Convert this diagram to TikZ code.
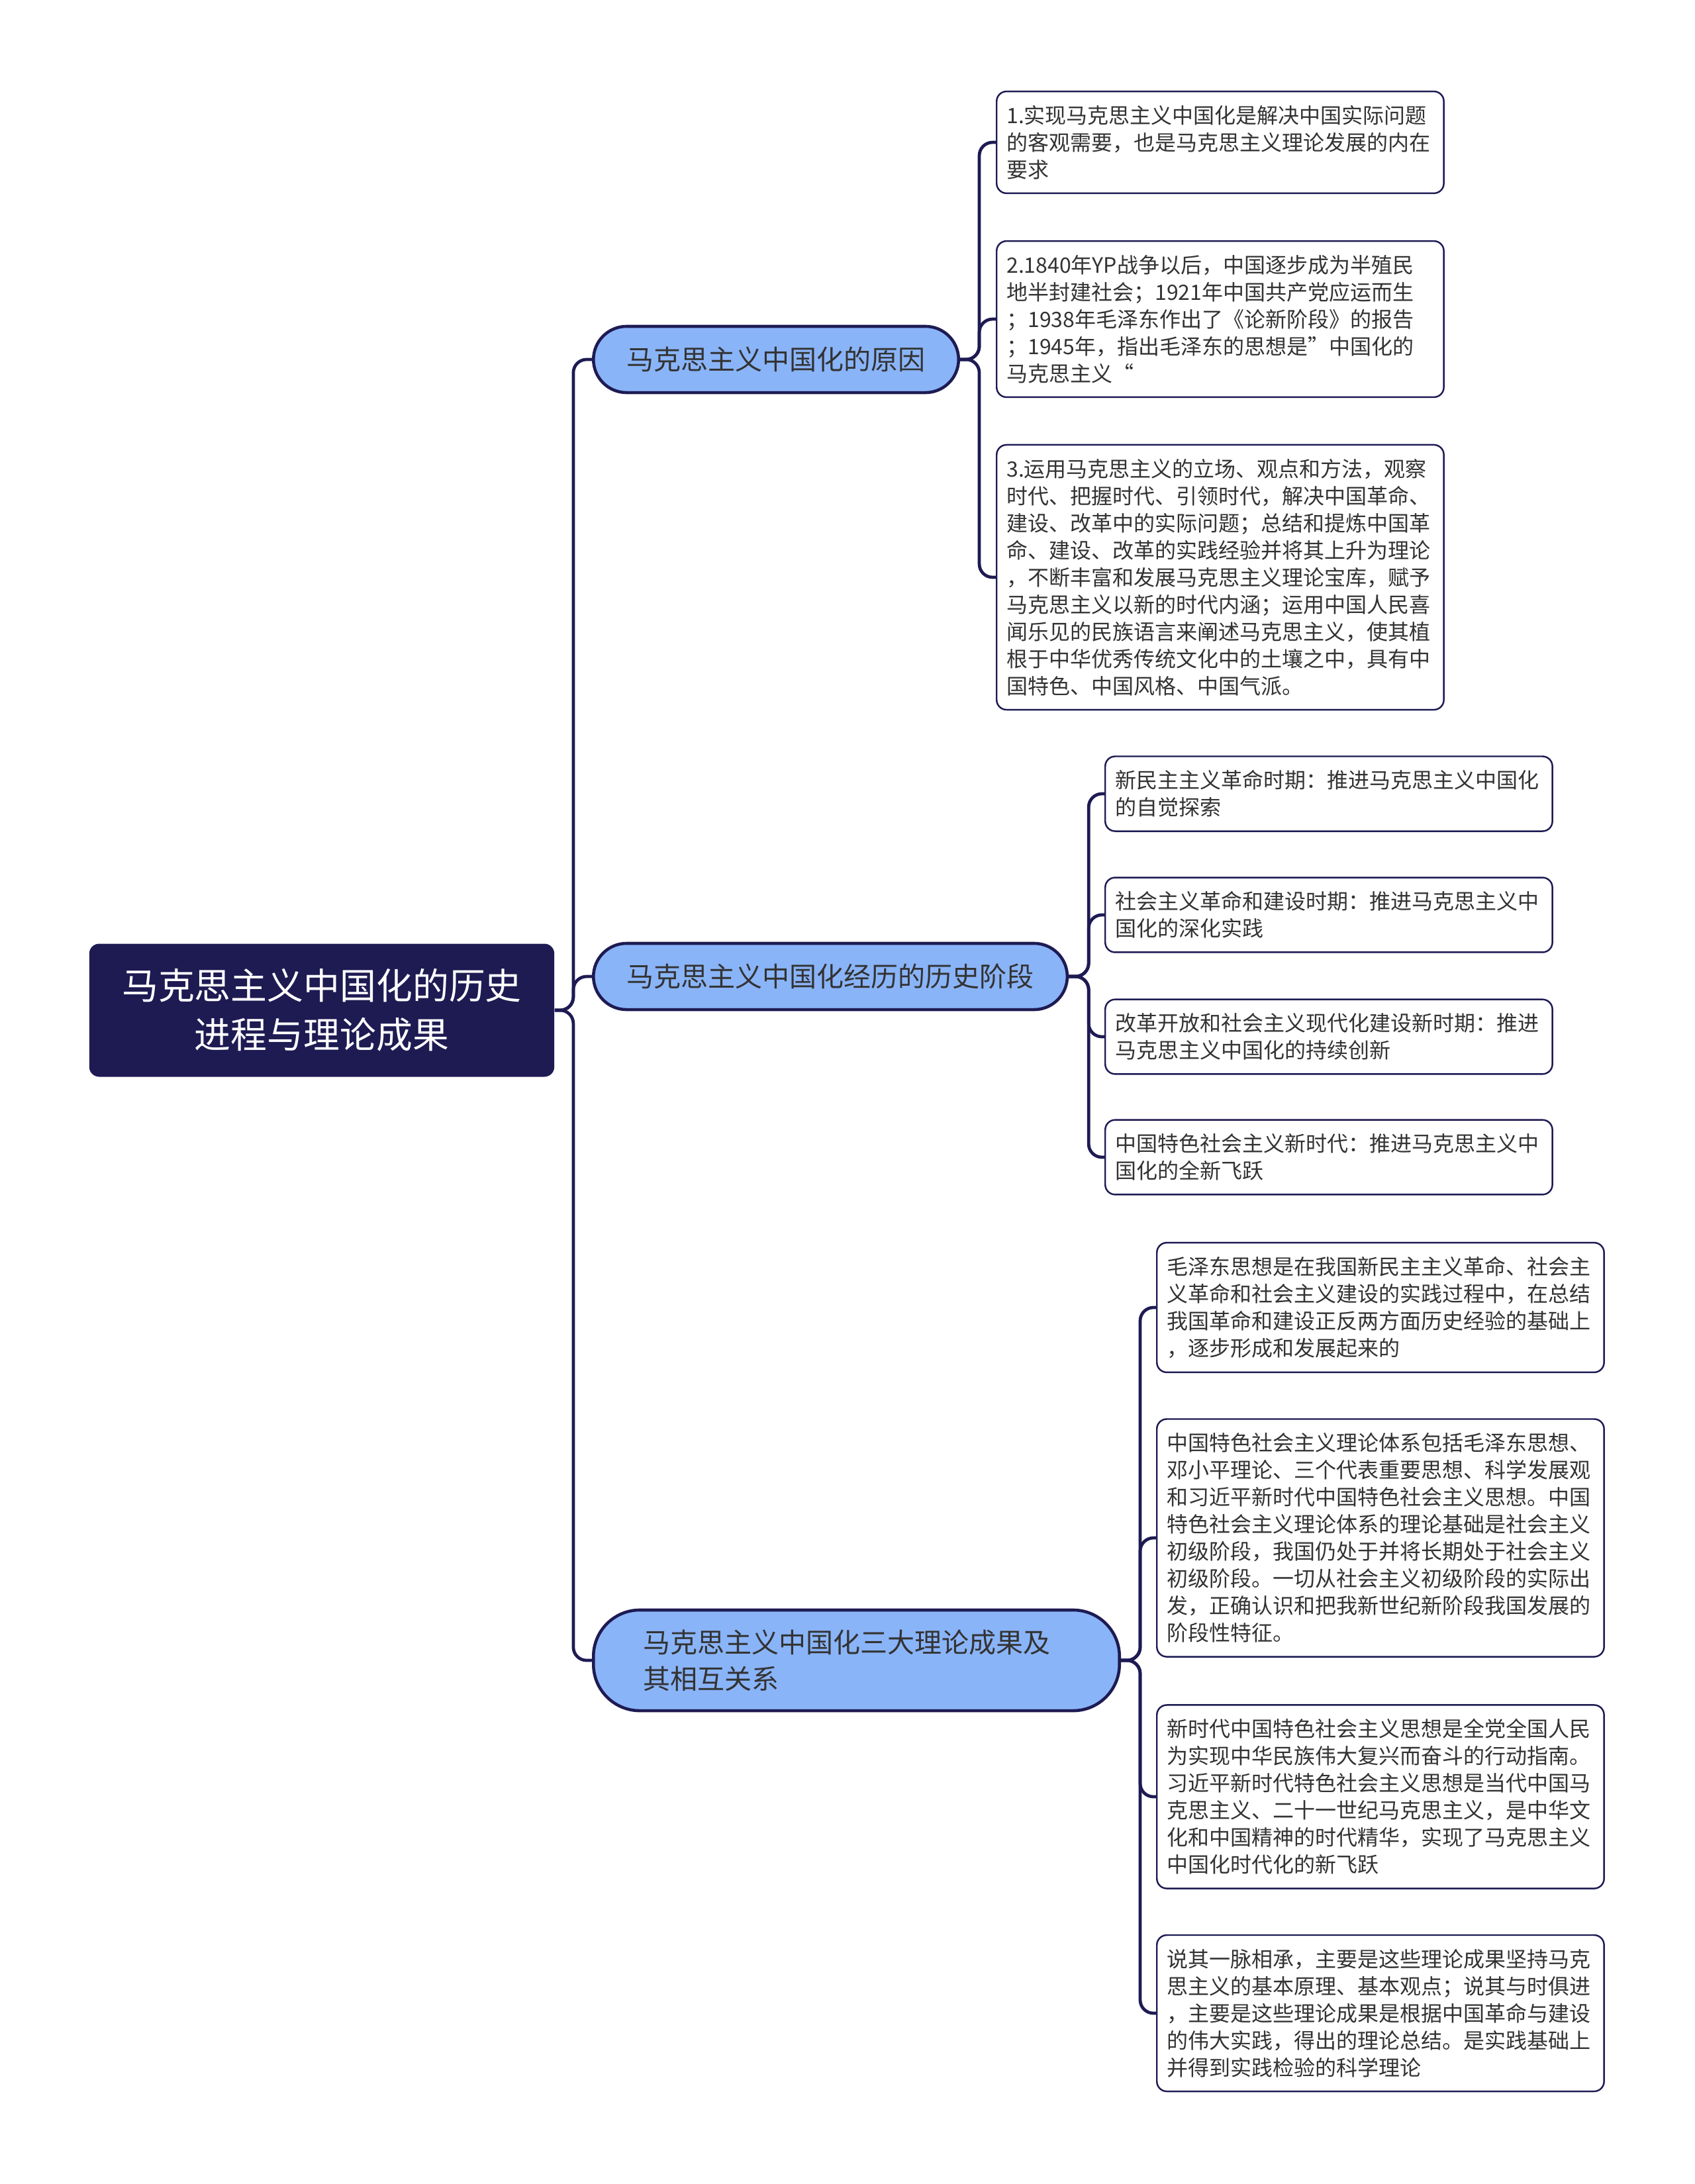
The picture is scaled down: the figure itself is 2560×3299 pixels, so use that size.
\documentclass[tikz,border=0pt]{standalone}
\usepackage{fontspec}
\setmainfont{Noto Sans CJK SC}
\definecolor{navy}{HTML}{1E1B53}
\definecolor{sky}{HTML}{8AB4F8}
\definecolor{ink}{HTML}{333333}

\begin{document}
\begin{tikzpicture}[x = 0.01cm, y = -0.01cm, line join = round]
        \tikzstyle{root} = [shape = rectangle, rounded corners = 0.15cm, fill = navy, text = white, align = center, text width = 6.1cm, inner xsep = 0.46cm, inner ysep = 0.38cm, font = \fontsize{15.6}{21}\selectfont]
        \tikzstyle{branch} = [shape = rectangle, rounded corners = 0.5cm, draw = navy, line width = 1.3pt, fill = sky, text = ink, inner xsep = 0.5cm, minimum height = 1.0cm, anchor = west, font = \fontsize{11.67}{15.65}\selectfont]
        \tikzstyle{leaf} = [shape = rectangle, rounded corners = 0.15cm, draw = navy, line width = 0.7pt, fill = white, text = ink, align = left, text width = 6.45cm, inner xsep = 0.15cm, inner ysep = 0.21cm, anchor = west, font = \fontsize{9.1}{11.67}\selectfont]
        \tikzstyle{link} = [draw = navy, line width = 1.35pt, rounded corners = 0.2cm]
        \useasboundingbox (0, 0) rectangle (2560, 3299);
        \node[root] (R) at (486, 1526) {马克思主义中国化的历史\\进程与理论成果};
        \node[branch] (B-1) at (894, 543) {马克思主义中国化的原因};
        \node[branch] (B-2) at (894, 1475) {马克思主义中国化经历的历史阶段};
        \node[branch, text width = 6.44cm, align = left, inner xsep = 0.75cm, rounded corners = 0.7cm, minimum height = 1.52cm] (B-3) at (894, 2508) {马克思主义中国化三大理论成果及\\其相互关系};
        \draw[link] (R.east) -- ++(28, 0) |- (B-1.west);
        \draw[link] (R.east) -- ++(28, 0) |- (B-2.west);
        \draw[link] (R.east) -- ++(28, 0) |- (B-3.west);
        \node[leaf] (L-1-1) at (1504, 215) {1.实现马克思主义中国化是解决中国实际问题\\的客观需要，也是马克思主义理论发展的内在\\要求};
        \node[leaf] (L-1-2) at (1504, 482) {2.1840年YP战争以后，中国逐步成为半殖民\\地半封建社会；1921年中国共产党应运而生\\；1938年毛泽东作出了《论新阶段》的报告\\；1945年，指出毛泽东的思想是”中国化的\\马克思主义“};
        \node[leaf] (L-1-3) at (1504, 872) {3.运用马克思主义的立场、观点和方法，观察\\时代、把握时代、引领时代，解决中国革命、\\建设、改革中的实际问题；总结和提炼中国革\\命、建设、改革的实践经验并将其上升为理论\\，不断丰富和发展马克思主义理论宝库，赋予\\马克思主义以新的时代内涵；运用中国人民喜\\闻乐见的民族语言来阐述马克思主义，使其植\\根于中华优秀传统文化中的土壤之中，具有中\\国特色、中国风格、中国气派。};
        \draw[link] (B-1.east) -- ++(29, 0) |- (L-1-1.west);
        \draw[link] (B-1.east) -- ++(29, 0) |- (L-1-2.west);
        \draw[link] (B-1.east) -- ++(29, 0) |- (L-1-3.west);
        \node[leaf] (L-2-1) at (1668, 1199) {新民主主义革命时期：推进马克思主义中国化\\的自觉探索};
        \node[leaf] (L-2-2) at (1668, 1382) {社会主义革命和建设时期：推进马克思主义中\\国化的深化实践};
        \node[leaf] (L-2-3) at (1668, 1566) {改革开放和社会主义现代化建设新时期：推进\\马克思主义中国化的持续创新};
        \node[leaf] (L-2-4) at (1668, 1748) {中国特色社会主义新时代：推进马克思主义中\\国化的全新飞跃};
        \draw[link] (B-2.east) -- ++(30, 0) |- (L-2-1.west);
        \draw[link] (B-2.east) -- ++(30, 0) |- (L-2-2.west);
        \draw[link] (B-2.east) -- ++(30, 0) |- (L-2-3.west);
        \draw[link] (B-2.east) -- ++(30, 0) |- (L-2-4.west);
        \node[leaf] (L-3-1) at (1746, 1975) {毛泽东思想是在我国新民主主义革命、社会主\\义革命和社会主义建设的实践过程中，在总结\\我国革命和建设正反两方面历史经验的基础上\\，逐步形成和发展起来的};
        \node[leaf] (L-3-2) at (1746, 2323) {中国特色社会主义理论体系包括毛泽东思想、\\邓小平理论、三个代表重要思想、科学发展观\\和习近平新时代中国特色社会主义思想。中国\\特色社会主义理论体系的理论基础是社会主义\\初级阶段，我国仍处于并将长期处于社会主义\\初级阶段。一切从社会主义初级阶段的实际出\\发，正确认识和把我新世纪新阶段我国发展的\\阶段性特征。};
        \node[leaf] (L-3-3) at (1746, 2714) {新时代中国特色社会主义思想是全党全国人民\\为实现中华民族伟大复兴而奋斗的行动指南。\\习近平新时代特色社会主义思想是当代中国马\\克思主义、二十一世纪马克思主义，是中华文\\化和中国精神的时代精华，实现了马克思主义\\中国化时代化的新飞跃};
        \node[leaf] (L-3-4) at (1746, 3041) {说其一脉相承，主要是这些理论成果坚持马克\\思主义的基本原理、基本观点；说其与时俱进\\，主要是这些理论成果是根据中国革命与建设\\的伟大实践，得出的理论总结。是实践基础上\\并得到实践检验的科学理论};
        \draw[link] (B-3.east) -- ++(29, 0) |- (L-3-1.west);
        \draw[link] (B-3.east) -- ++(29, 0) |- (L-3-2.west);
        \draw[link] (B-3.east) -- ++(29, 0) |- (L-3-3.west);
        \draw[link] (B-3.east) -- ++(29, 0) |- (L-3-4.west);
\end{tikzpicture}
\end{document}
